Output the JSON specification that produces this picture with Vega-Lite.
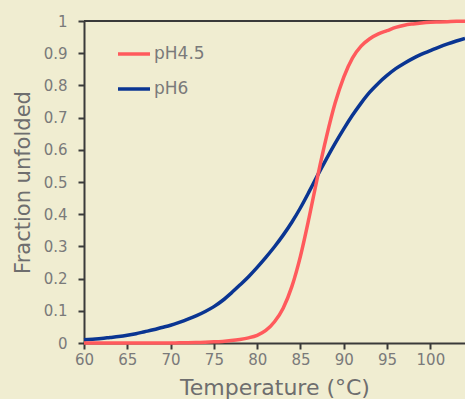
{
  "$schema": "https://vega.github.io/schema/vega-lite/v6.json",
  "autosize": {"type": "none"},
  "width": 381,
  "height": 322,
  "padding": {"left": 84, "top": 21, "right": 0, "bottom": 56},
  "background": "#f0edd1",
  "config": {
    "view": {"stroke": null},
    "font": "DejaVu Sans",
    "axis": {
      "domainColor": "#3a3a3a",
      "domainWidth": 2,
      "tickColor": "#3a3a3a",
      "tickWidth": 2,
      "tickSize": 6,
      "grid": false,
      "labelFlush": false,
      "labelOverlap": false,
      "labelFont": "DejaVu Sans",
      "labelFontSize": 15,
      "labelColor": "#7a7a7a",
      "titleFont": "DejaVu Sans",
      "titleFontWeight": "normal",
      "titleColor": "#6e6e6e"
    }
  },
  "data": {
    "values": [
      {"t":60,"f":0.000001,"ph":"pH4.5"},{"t":61,"f":0.000002,"ph":"pH4.5"},{"t":62,"f":0.000003,"ph":"pH4.5"},{"t":63,"f":0.000005,"ph":"pH4.5"},{"t":64,"f":0.000008,"ph":"pH4.5"},
      {"t":65,"f":0.000013,"ph":"pH4.5"},{"t":66,"f":0.00002,"ph":"pH4.5"},{"t":67,"f":0.00004,"ph":"pH4.5"},{"t":68,"f":0.00006,"ph":"pH4.5"},{"t":69,"f":0.0001,"ph":"pH4.5"},
      {"t":70,"f":0.0002,"ph":"pH4.5"},{"t":71,"f":0.0005,"ph":"pH4.5"},{"t":72,"f":0.0009,"ph":"pH4.5"},{"t":73,"f":0.0015,"ph":"pH4.5"},{"t":74,"f":0.0025,"ph":"pH4.5"},
      {"t":75,"f":0.0035,"ph":"pH4.5"},{"t":76,"f":0.005,"ph":"pH4.5"},{"t":77,"f":0.0075,"ph":"pH4.5"},{"t":78,"f":0.011,"ph":"pH4.5"},{"t":79,"f":0.016,"ph":"pH4.5"},
      {"t":80,"f":0.024,"ph":"pH4.5"},{"t":81,"f":0.039,"ph":"pH4.5"},{"t":82,"f":0.066,"ph":"pH4.5"},{"t":83,"f":0.108,"ph":"pH4.5"},{"t":84,"f":0.175,"ph":"pH4.5"},
      {"t":85,"f":0.27,"ph":"pH4.5"},{"t":86,"f":0.39,"ph":"pH4.5"},{"t":87,"f":0.52,"ph":"pH4.5"},{"t":88,"f":0.64,"ph":"pH4.5"},{"t":89,"f":0.745,"ph":"pH4.5"},
      {"t":90,"f":0.826,"ph":"pH4.5"},{"t":91,"f":0.885,"ph":"pH4.5"},{"t":92,"f":0.922,"ph":"pH4.5"},{"t":93,"f":0.945,"ph":"pH4.5"},{"t":94,"f":0.96,"ph":"pH4.5"},
      {"t":95,"f":0.97,"ph":"pH4.5"},{"t":96,"f":0.98,"ph":"pH4.5"},{"t":97,"f":0.987,"ph":"pH4.5"},{"t":98,"f":0.991,"ph":"pH4.5"},{"t":99,"f":0.994,"ph":"pH4.5"},
      {"t":100,"f":0.996,"ph":"pH4.5"},{"t":101,"f":0.997,"ph":"pH4.5"},{"t":102,"f":0.998,"ph":"pH4.5"},{"t":103,"f":0.999,"ph":"pH4.5"},{"t":104,"f":0.999,"ph":"pH4.5"},
      {"t":60,"f":0.010,"ph":"pH6"},{"t":61,"f":0.012,"ph":"pH6"},{"t":62,"f":0.014,"ph":"pH6"},{"t":63,"f":0.017,"ph":"pH6"},{"t":64,"f":0.020,"ph":"pH6"},
      {"t":65,"f":0.024,"ph":"pH6"},{"t":66,"f":0.029,"ph":"pH6"},{"t":67,"f":0.035,"ph":"pH6"},{"t":68,"f":0.041,"ph":"pH6"},{"t":69,"f":0.048,"ph":"pH6"},
      {"t":70,"f":0.055,"ph":"pH6"},{"t":71,"f":0.064,"ph":"pH6"},{"t":72,"f":0.074,"ph":"pH6"},{"t":73,"f":0.085,"ph":"pH6"},{"t":74,"f":0.098,"ph":"pH6"},
      {"t":75,"f":0.113,"ph":"pH6"},{"t":76,"f":0.132,"ph":"pH6"},{"t":77,"f":0.155,"ph":"pH6"},{"t":78,"f":0.180,"ph":"pH6"},{"t":79,"f":0.206,"ph":"pH6"},
      {"t":80,"f":0.235,"ph":"pH6"},{"t":81,"f":0.266,"ph":"pH6"},{"t":82,"f":0.299,"ph":"pH6"},{"t":83,"f":0.335,"ph":"pH6"},{"t":84,"f":0.375,"ph":"pH6"},
      {"t":85,"f":0.420,"ph":"pH6"},{"t":86,"f":0.470,"ph":"pH6"},{"t":87,"f":0.522,"ph":"pH6"},{"t":88,"f":0.572,"ph":"pH6"},{"t":89,"f":0.620,"ph":"pH6"},
      {"t":90,"f":0.665,"ph":"pH6"},{"t":91,"f":0.707,"ph":"pH6"},{"t":92,"f":0.745,"ph":"pH6"},{"t":93,"f":0.779,"ph":"pH6"},{"t":94,"f":0.807,"ph":"pH6"},
      {"t":95,"f":0.831,"ph":"pH6"},{"t":96,"f":0.852,"ph":"pH6"},{"t":97,"f":0.869,"ph":"pH6"},{"t":98,"f":0.884,"ph":"pH6"},{"t":99,"f":0.897,"ph":"pH6"},
      {"t":100,"f":0.908,"ph":"pH6"},{"t":101,"f":0.919,"ph":"pH6"},{"t":102,"f":0.929,"ph":"pH6"},{"t":103,"f":0.938,"ph":"pH6"},{"t":104,"f":0.946,"ph":"pH6"}
    ]
  },
  "encoding": {
    "x": {"field": "t", "type": "quantitative", "scale": {"domain": [60, 104], "nice": false},
          "axis": {"values": [60, 65, 70, 75, 80, 85, 90, 95, 100], "labelPadding": 3, "title": "Temperature (°C)", "titleFontSize": 22, "titlePadding": 10}},
    "y": {"field": "f", "type": "quantitative", "scale": {"domain": [0, 1], "nice": false},
          "axis": {"values": [0, 0.1, 0.2, 0.3, 0.4, 0.5, 0.6, 0.7, 0.8, 0.9, 1], "format": "~g", "labelPadding": 11, "title": "Fraction unfolded", "titleFontSize": 21, "titlePadding": 10}}
  },
  "layer": [
    {
      "mark": {"type": "rule", "color": "#3a3a3a", "strokeWidth": 2},
      "encoding": {"x": null, "y": {"datum": 1, "type": "quantitative"}}
    },
    {
      "transform": [{"filter": "datum.ph == 'pH6'"}],
      "mark": {"type": "line", "strokeWidth": 3.5, "interpolate": "monotone"},
      "encoding": {
        "color": {"field": "ph", "type": "nominal",
                  "scale": {"domain": ["pH4.5", "pH6"], "range": ["#ff5a5c", "#0a3592"]},
                  "legend": {"title": null, "orient": "none", "legendX": 32, "legendY": 15, "padding": 0,
                             "symbolType": "stroke", "symbolSize": 1024, "symbolStrokeWidth": 3.5,
                             "labelFont": "DejaVu Sans", "labelFontSize": 17, "labelColor": "#7a7a7a", "labelOffset": 2, "rowPadding": 9}}
      }
    },
    {
      "transform": [{"filter": "datum.ph == 'pH4.5'"}],
      "mark": {"type": "line", "strokeWidth": 3.5, "interpolate": "monotone"},
      "encoding": {
        "color": {"field": "ph", "type": "nominal"}
      }
    }
  ]
}
